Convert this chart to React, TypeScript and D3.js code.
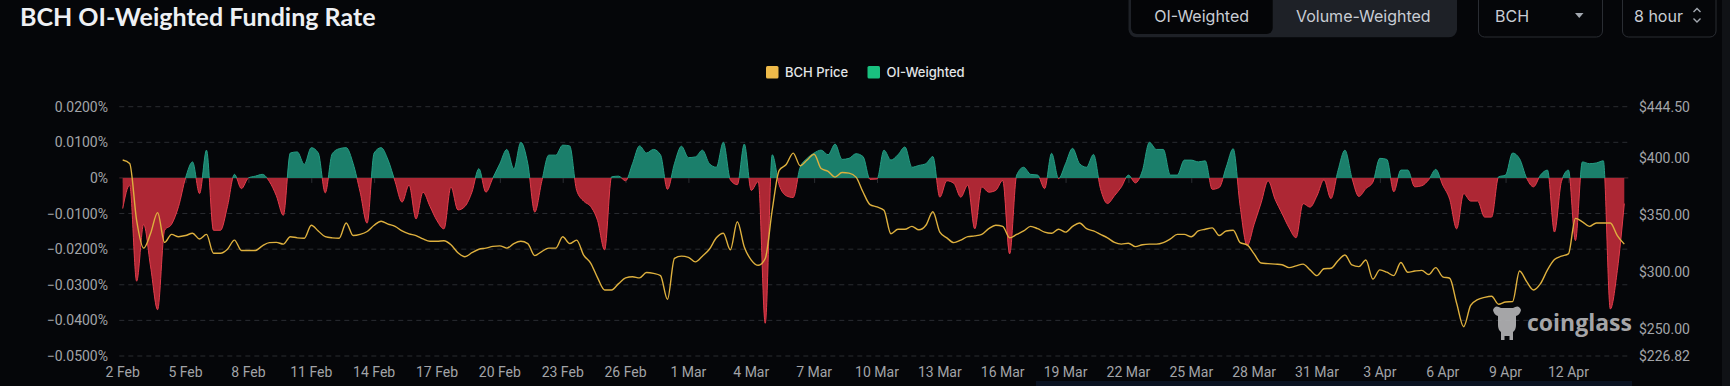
import { useRef, useEffect } from "react";
import * as d3 from "d3";

// 8-hour funding rate (in %), starting 2 Feb 2025 00:00 UTC
const fundingRate = [
  -0.0086, -0.002, -0.029,
  -0.013, -0.025, -0.037,
  -0.0147, -0.013, -0.008,
  0, 0.0045, -0.0044,
  0.0078, -0.0147, -0.0147,
  -0.008, 0.001, -0.003,
  0, 0.0005, 0.001,
  -0.001, -0.005, -0.0105,
  0.007, 0.0073, 0.0038,
  0.0085, 0.007, -0.0042,
  0.0068, 0.0082, 0.0085,
  0.004, -0.004, -0.0127,
  0.007, 0.0085, 0.005,
  -0.001, -0.0068, -0.002,
  -0.0115, -0.004, -0.008,
  -0.012, -0.0143, -0.0025,
  -0.009, -0.008, -0.004,
  0.0026, -0.004, 0,
  0.004, 0.008, 0.0025,
  0.01, 0.004, -0.0096,
  -0.001, 0.0064, 0.0064,
  0.0092, 0.009, -0.0035,
  -0.0065, -0.008, -0.012,
  -0.0202, 0.0003, 0.0005,
  -0.0008, 0.004, 0.009,
  0.007, 0.008, 0.0065,
  -0.0032, 0.004, 0.0089,
  0.0057, 0.0059, 0.0078,
  0.004, 0.003, 0.01,
  -0.0005, -0.0019, 0.0095,
  -0.0035, -0.001, -0.0408,
  0.0065, -0.002, -0.005,
  -0.0055, 0.003, 0.0055,
  0.007, 0.0078, 0.0065,
  0.0095, 0.0052, 0.0055,
  0.0068, 0.006, -0.0004,
  -0.0003, 0.0078, 0.005,
  0.0065, 0.0087, 0.003,
  0.0035, 0.004, 0.006,
  -0.0054, -0.0008, -0.0015,
  -0.0054, -0.002, -0.0143,
  -0.0025, -0.004, -0.0035,
  -0.0007, -0.0213, 0.0008,
  0.003, 0.001, 0.0008,
  -0.003, 0.0069, -0.0002,
  0.004, 0.0083, 0.004,
  0.003, 0.0066, -0.003,
  -0.0072, -0.005, -0.0025,
  0.0008, -0.0014, 0.002,
  0.01, 0.008, 0.008,
  0.0008, 0.0008, 0.005,
  0.005, 0.0045, 0.0048,
  -0.0032, -0.0027, 0.003,
  0.0082, -0.008, -0.019,
  -0.013, -0.007, -0.0008,
  -0.006, -0.01, -0.014,
  -0.0168, -0.0072, -0.0082,
  -0.005, -0.0005, -0.0058,
  0.002, 0.0078, 0,
  -0.0052, -0.003, -0.0012,
  0.0055, 0.0052, -0.0039,
  0.0022, 0.0022, -0.0025,
  -0.0022, -0.0005, 0.0024,
  -0.002, -0.006, -0.0143,
  -0.0044, -0.0065, -0.0065,
  -0.011, -0.011, 0.0003,
  0.0008, 0.007, 0.0054,
  0, -0.0025, 0.0008,
  0.0022, -0.0152, -0.001,
  0.0022, -0.0176, 0.0045,
  0.004, 0.0042, 0.0048,
  -0.0368, -0.026, -0.0072,
];

// BCH price, same 8-hour steps
const bchPrice = [
  398, 395, 345,
  321, 334, 352,
  326, 333, 331,
  332, 334, 329,
  333, 316.5, 316.5,
  320, 328, 319,
  319, 319, 323,
  325.8, 326, 324.5,
  331, 330, 329.7,
  341, 336, 331,
  330, 329.7, 343,
  332, 333, 335.5,
  341, 344.5, 342,
  340, 336, 333.5,
  332, 329, 327,
  327, 327.5, 324,
  317, 313.5, 317,
  320, 321, 322.5,
  323, 321, 325,
  327, 325, 314.5,
  318, 321, 321,
  331, 325, 328,
  315, 308, 295,
  284.5, 284.5, 290,
  295, 296, 295,
  299.7, 299, 297,
  276.3, 312, 314,
  313, 309, 314,
  320, 330, 334,
  319.5, 344, 322,
  310.6, 306, 312,
  354.3, 389, 394,
  404, 393, 398,
  403, 390.5, 388,
  383, 387, 386.5,
  383, 370, 359,
  357, 354, 333.5,
  337.5, 337.5, 340,
  337, 341, 352.8,
  335, 330, 325.8,
  328, 331, 331.7,
  333, 338, 341,
  340, 330, 333,
  336, 340, 338,
  335, 334, 337.5,
  335, 340, 343,
  338, 336, 333,
  330, 326, 324.5,
  325.3, 322.3, 324,
  324.5, 324.5, 325.8,
  329, 333, 333,
  331, 336, 337.5,
  338.7, 332, 336,
  336.6, 325.8, 323.8,
  316, 308, 307.5,
  307, 306.5, 304,
  305.5, 307, 302,
  297, 303, 303.4,
  310, 315, 306.3,
  304.9, 310.6, 294,
  302, 300, 297,
  308.4, 300, 301,
  301.6, 298, 304,
  296, 294.7, 272.8,
  252.4, 271, 276,
  278, 279, 272,
  274, 274.3, 301,
  292, 284.5, 290,
  302, 311, 314,
  316, 347, 344,
  340, 343, 343,
  343, 332, 324.5,
];

const xTickLabels = [
  "2 Feb", "5 Feb", "8 Feb", "11 Feb", "14 Feb", "17 Feb", "20 Feb", "23 Feb",
  "26 Feb", "1 Mar", "4 Mar", "7 Mar", "10 Mar", "13 Mar", "16 Mar", "19 Mar",
  "22 Mar", "25 Mar", "28 Mar", "31 Mar", "3 Apr", "6 Apr", "9 Apr", "12 Apr",
];
const rateTicks = [0.02, 0.01, 0, -0.01, -0.02, -0.03, -0.04, -0.05];
const priceTicks = [444.5, 400, 350, 300, 250, 226.82];

const seriesNames = ["BCH Price", "OI-Weighted"];

const START = Date.UTC(2025, 1, 2);
const STEP = 8 * 3600 * 1000;
const DAY = 24 * 3600 * 1000;

const App = () => {
  const container = useRef(null);

  useEffect(() => {
    document.body.style.margin = "0";
    document.body.style.background = "#050609";
    createChart();
  });

  const createChart = () => {
    const width = 1730;
    const height = 386;
    const bg = "#050609";
    const axisFont = "Roboto, 'Noto Sans', sans-serif";
    const uiFont = "Inter, Roboto, sans-serif";

    const rows = fundingRate.map((v, i) => ({
      t: new Date(START + i * STEP),
      v: v,
      p: bchPrice[i],
    }));

    const svg = d3
      .select(container.current)
      .selectAll("svg")
      .data([0])
      .join("svg")
      .attr("width", width)
      .attr("height", height)
      .style("display", "block");

    svg.selectAll("*").remove();

    svg.append("rect").attr("width", width).attr("height", height).attr("fill", bg);

    // scales
    const xScale = d3
      .scaleUtc()
      .domain([rows[0].t, rows[rows.length - 1].t])
      .range([122.7, 1624.3]);
    const yRate = d3.scaleLinear().domain([-0.05, 0.02]).range([356, 106.7]);
    const yPrice = d3.scaleLinear().domain([226.82, 444.5]).range([356, 106.7]);
    const y0 = yRate(0);

    const gridLeft = 119.3;
    const gridRight = 1628.3;

    // title
    svg
      .append("text")
      .attr("x", 20)
      .attr("y", 25.5)
      .attr("fill", "#eef0f3")
      .style("font-family", "Lato, 'Open Sans', sans-serif")
      .style("font-weight", 700)
      .style("font-size", "25px")
      .text("BCH OI-Weighted Funding Rate");

    // segmented control
    const seg = svg.append("g");
    seg
      .append("rect")
      .attr("x", 1128.5)
      .attr("y", -10)
      .attr("width", 328.5)
      .attr("height", 47.3)
      .attr("rx", 8)
      .attr("fill", "#1e2127");
    seg
      .append("rect")
      .attr("x", 1131)
      .attr("y", -10)
      .attr("width", 141.7)
      .attr("height", 44)
      .attr("rx", 6)
      .attr("fill", "#040507");
    seg
      .selectAll("text")
      .data([
        { label: "OI-Weighted", cx: 1201.7 },
        { label: "Volume-Weighted", cx: 1363.3 },
      ])
      .join("text")
      .attr("x", (d) => d.cx)
      .attr("y", 21.5)
      .attr("text-anchor", "middle")
      .attr("fill", "#c9cdd4")
      .style("font-family", uiFont)
      .style("font-size", "16px")
      .text((d) => d.label);

    // BCH select
    svg
      .append("rect")
      .attr("x", 1478.5)
      .attr("y", -10)
      .attr("width", 124)
      .attr("height", 47)
      .attr("rx", 6)
      .attr("fill", "none")
      .attr("stroke", "#2a2d33");
    svg
      .append("text")
      .attr("x", 1495)
      .attr("y", 21.5)
      .attr("fill", "#c9cdd4")
      .style("font-family", uiFont)
      .style("font-size", "16px")
      .text("BCH");
    svg
      .append("path")
      .attr("d", "M1575,13 L1583.5,13 L1579.25,18 Z")
      .attr("fill", "#a3a8b0");

    // interval select
    svg
      .append("rect")
      .attr("x", 1622.5)
      .attr("y", -10)
      .attr("width", 93.5)
      .attr("height", 47)
      .attr("rx", 6)
      .attr("fill", "none")
      .attr("stroke", "#2a2d33");
    svg
      .append("text")
      .attr("x", 1634)
      .attr("y", 21.5)
      .attr("fill", "#c9cdd4")
      .style("font-family", uiFont)
      .style("font-size", "16px")
      .text("8 hour");
    svg
      .append("path")
      .attr("d", "M1693.5,12 L1697,8.5 L1700.5,12 M1693.5,18.5 L1697,22 L1700.5,18.5")
      .attr("fill", "none")
      .attr("stroke", "#a3a8b0")
      .attr("stroke-width", 1.4);

    // right edge strip + bottom strip
    svg.append("rect").attr("x", 1722).attr("y", 0).attr("width", 8).attr("height", height).attr("fill", "#101216");
    svg.append("rect").attr("x", 1036).attr("y", 381).attr("width", 596).attr("height", 5).attr("fill", "#0b1322");

    // legend
    const legendColors = ["#eeba4a", "#19c07f"];
    const legend = svg
      .selectAll(".legend-item")
      .data(seriesNames)
      .join("g")
      .attr("class", "legend-item")
      .attr("transform", (d, i) => `translate(${i === 0 ? 766 : 867.5}, 66)`);
    legend
      .append("rect")
      .attr("width", 12.5)
      .attr("height", 12.5)
      .attr("rx", 1.5)
      .attr("fill", (d, i) => legendColors[i]);
    legend
      .append("text")
      .attr("x", 19)
      .attr("y", 10.5)
      .attr("fill", "#e3e5e8")
      .style("font-family", uiFont)
      .style("font-weight", 500)
      .style("font-size", "13px")
      .text((d) => d);

    // grid
    svg
      .selectAll(".grid")
      .data(rateTicks.filter((t) => t !== 0))
      .join("line")
      .attr("class", "grid")
      .attr("x1", gridLeft)
      .attr("x2", gridRight)
      .attr("y1", (d) => yRate(d))
      .attr("y2", (d) => yRate(d))
      .attr("stroke", "#2a2c31")
      .attr("stroke-dasharray", "5 4");

    // left axis labels
    svg
      .selectAll(".ylab")
      .data(rateTicks)
      .join("text")
      .attr("class", "ylab")
      .attr("x", 108)
      .attr("y", (d) => yRate(d) + 5)
      .attr("text-anchor", "end")
      .attr("fill", "#a2a4a8")
      .style("font-family", axisFont)
      .style("font-size", "14px")
      .text((d) => (d === 0 ? "0%" : d3.format(".4f")(d) + "%"));

    // right axis labels
    svg
      .selectAll(".plab")
      .data(priceTicks)
      .join("text")
      .attr("class", "plab")
      .attr("x", 1639)
      .attr("y", (d) => yPrice(d) + 5)
      .attr("fill", "#a2a4a8")
      .style("font-family", axisFont)
      .style("font-size", "14px")
      .text((d) => "$" + d3.format(".2f")(d));

    // x axis labels
    const tickDates = xTickLabels.map((l, i) => new Date(START + i * 3 * DAY));
    svg
      .selectAll(".xlab")
      .data(xTickLabels)
      .join("text")
      .attr("class", "xlab")
      .attr("x", (d, i) => xScale(tickDates[i]))
      .attr("y", 377)
      .attr("text-anchor", "middle")
      .attr("fill", "#a2a4a8")
      .style("font-family", axisFont)
      .style("font-size", "14px")
      .text((d) => d);

    // zero axis with ticks
    svg
      .append("line")
      .attr("x1", gridLeft)
      .attr("x2", gridRight)
      .attr("y1", y0)
      .attr("y2", y0)
      .attr("stroke", "#4a2a31");
    svg
      .selectAll(".xtick")
      .data(tickDates)
      .join("line")
      .attr("class", "xtick")
      .attr("x1", (d) => xScale(d) + 0.5)
      .attr("x2", (d) => xScale(d) + 0.5)
      .attr("y1", y0)
      .attr("y2", y0 + 5)
      .attr("stroke", "#2c2e33");

    // clips for positive / negative parts
    const defs = svg.append("defs");
    defs
      .append("clipPath")
      .attr("id", "clip-pos")
      .append("rect")
      .attr("x", 0)
      .attr("y", 0)
      .attr("width", width)
      .attr("height", y0);
    defs
      .append("clipPath")
      .attr("id", "clip-neg")
      .append("rect")
      .attr("x", 0)
      .attr("y", y0)
      .attr("width", width)
      .attr("height", height - y0);

    const area = d3
      .area()
      .x((d) => xScale(d.t))
      .y0(y0)
      .y1((d) => yRate(d.v))
      .curve(d3.curveMonotoneX);
    const rateLine = d3
      .line()
      .x((d) => xScale(d.t))
      .y((d) => yRate(d.v))
      .curve(d3.curveMonotoneX);

    const parts = [
      { clip: "clip-pos", fill: "#1b7f6b", stroke: "#239e84" },
      { clip: "clip-neg", fill: "#ad2734", stroke: "#e23c4b" },
    ];
    parts.forEach((p) => {
      const g = svg.append("g").attr("clip-path", `url(#${p.clip})`);
      g.append("path").datum(rows).attr("d", area).attr("fill", p.fill);
      g.append("path")
        .datum(rows)
        .attr("d", rateLine)
        .attr("fill", "none")
        .attr("stroke", p.stroke)
        .attr("stroke-width", 1);
    });

    // price line
    svg
      .append("path")
      .datum(rows)
      .attr(
        "d",
        d3
          .line()
          .x((d) => xScale(d.t))
          .y((d) => yPrice(d.p))
          .curve(d3.curveMonotoneX)
      )
      .attr("fill", "none")
      .attr("stroke", "#deb03e")
      .attr("stroke-width", 1.4);

    // watermark
    const wm = svg.append("g").attr("fill", "#b3b3b5").attr("opacity", 0.92);
    wm.append("path").attr(
      "d",
      "M1493,310 Q1495,304 1501,308 L1513,308 Q1519,304 1521,310 Q1520,315 1516,316 L1516,325 Q1516,330 1513,332 L1513,340 L1509.5,340 L1509.5,336 L1504.5,336 L1504.5,340 L1501,340 L1501,332 Q1498,330 1498,325 L1498,316 Q1494,315 1493,310 Z"
    );
    wm.append("text")
      .attr("x", 1527)
      .attr("y", 331)
      .style("font-family", "'Open Sans', sans-serif")
      .style("font-weight", 700)
      .style("font-size", "23px")
      .text("coinglass");

    return;
  };

  return <div ref={container} style={{ position: "absolute", left: 0, top: 0 }}></div>;
};

export default App;
